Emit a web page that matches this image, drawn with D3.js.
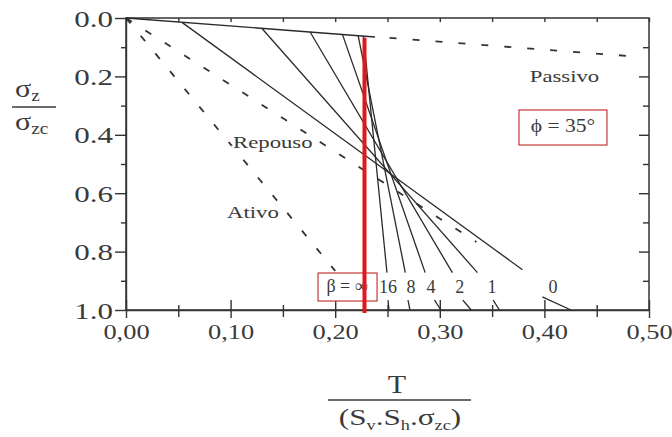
<!DOCTYPE html>
<html>
<head>
<meta charset="utf-8">
<script src="https://cdn.jsdelivr.net/npm/d3@7"></script>
<style>
html, body {margin:0;padding:0;background:#fff;overflow:hidden;}
#chart {display:block;}
svg text {font-family:"Liberation Serif","Times New Roman",serif;fill:#3a3a3a;}
.ax path, .ax line {stroke:#333;stroke-width:1.4;}
</style>
</head>
<body>
<svg id="chart" width="672" height="437"></svg>
<script>
// values: x = T/(Sv.Sh.σzc), y = σz/σzc
var betaNames = ["0", "1", "2", "4", "8", "16"];
var betaTopX = [0.0535, 0.130, 0.176, 0.207, 0.222, 0.227];
var betaTopY = [0.015, 0.036, 0.048, 0.057, 0.061, 0.062];
var betaMidX = [0.379, 0.336, 0.312, 0.286, 0.267, 0.2495];
var betaMidY = [0.862, 0.872, 0.872, 0.872, 0.872, 0.872];
var betaLowX = [0.398, 0.351, 0.322, 0.295, 0.2696, 0.2505];
var betaLowY = [0.955, 0.966, 0.966, 0.966, 0.966, 0.966];
var betaBotX = [0.4254, 0.357, 0.330, 0.301, 0.2715, 0.2514];
var betaLabelX = [0.4082, 0.350, 0.319, 0.2916, 0.2725, 0.2505];

var envX = [0, 0.238], envY = [0, 0.065];
var passivoX = [0.252, 0.48], passivoY = [0.068, 0.13];
var repousoX = [0, 0.335], repousoY = [0, 0.767];
var ativoX = [0, 0.2], ativoY = [0, 0.866];
var redX = 0.228, redY = [0.068, 1.0];

var xMajor = [0, 0.1, 0.2, 0.3, 0.4, 0.5];
var xMinor = [0.05, 0.15, 0.25, 0.35, 0.45];
var yMajor = [0, 0.2, 0.4, 0.6, 0.8, 1.0];
var yMinor = [0.1, 0.3, 0.5, 0.7, 0.9];

var svg = d3.select("#chart");
var x = d3.scaleLinear().domain([0, 0.5]).range([126, 649]);
var y = d3.scaleLinear().domain([0, 1]).range([18, 310]);
var comma = d3.formatLocale({decimal: ",", thousands: ".", grouping: [3], currency: ["", ""]}).format(".2f");

// plot frame
svg.append("rect").attr("x", x(0)).attr("y", y(0))
  .attr("width", x(0.5) - x(0)).attr("height", y(1) - y(0))
  .attr("fill", "none").attr("stroke", "#333").attr("stroke-width", 1.5);

// top and right ticks pointing inward
svg.append("g").attr("class", "ax").attr("transform", "translate(0," + y(0) + ")")
  .call(d3.axisBottom(x).tickValues(xMajor.concat(xMinor)).tickSize(4).tickSizeOuter(0).tickFormat(""))
  .select(".domain").remove();
svg.append("g").attr("class", "ax").attr("transform", "translate(" + x(0.5) + ",0)")
  .call(d3.axisLeft(y).tickValues([0.2, 0.4, 0.6, 0.8]).tickSize(10).tickFormat(""))
  .select(".domain").remove();
svg.append("g").attr("class", "ax").attr("transform", "translate(" + x(0.5) + ",0)")
  .call(d3.axisLeft(y).tickValues(yMinor).tickSize(6).tickFormat(""))
  .select(".domain").remove();

// left axis
var left = svg.append("g").attr("class", "ax").attr("transform", "translate(" + x(0) + ",0)")
  .call(d3.axisLeft(y).tickValues(yMajor).tickSize(11).tickSizeOuter(0).tickFormat(d3.format(".1f")));
left.selectAll("text").attr("x", -9.6).attr("dy", "0.35em").attr("transform", "scale(1.35,1)")
  .style("font-size", "23px");
svg.append("g").attr("class", "ax").attr("transform", "translate(" + x(0) + ",0)")
  .call(d3.axisLeft(y).tickValues(yMinor).tickSize(5).tickFormat(""))
  .select(".domain").remove();

// bottom axis, ticks cross the line
var bottom = svg.append("g").attr("class", "ax").attr("transform", "translate(0," + y(1) + ")")
  .call(d3.axisBottom(x).tickValues(xMajor).tickSize(8).tickSizeOuter(0).tickFormat(comma));
bottom.selectAll(".tick line").attr("y1", -10);
bottom.selectAll("text").attr("y", 29).attr("dy", 0).attr("transform", "scale(1.2,1)")
  .style("font-size", "22px");
var bmin = svg.append("g").attr("class", "ax").attr("transform", "translate(0," + y(1) + ")")
  .call(d3.axisBottom(x).tickValues(xMinor).tickSize(7).tickFormat(""));
bmin.select(".domain").remove();
bmin.selectAll(".tick line").attr("y1", -5);

var line = d3.line().x(function(d) { return x(d[0]); }).y(function(d) { return y(d[1]); });
function pts(xs, ys) { return xs.map(function(v, i) { return [v, ys[i]]; }); }

// dashed earth pressure lines
[[passivoX, passivoY], [repousoX, repousoY], [ativoX, ativoY]].forEach(function(p) {
  svg.append("path").attr("d", line(pts(p[0], p[1])))
    .attr("fill", "none").attr("stroke", "#333").attr("stroke-width", 1.8)
    .attr("stroke-dasharray", "7,16");
});

// solid envelope and beta lines
svg.append("path").attr("d", line(pts(envX, envY)))
  .attr("fill", "none").attr("stroke", "#2a2a2a").attr("stroke-width", 1.3);
betaNames.forEach(function(b, i) {
  svg.append("path").attr("d", line([[betaTopX[i], betaTopY[i]], [betaMidX[i], betaMidY[i]]]))
    .attr("fill", "none").attr("stroke", "#2a2a2a").attr("stroke-width", 1.3);
  svg.append("path").attr("d", line([[betaLowX[i], betaLowY[i]], [betaBotX[i], 1.0]]))
    .attr("fill", "none").attr("stroke", "#2a2a2a").attr("stroke-width", 1.3);
  svg.append("text").attr("x", x(betaLabelX[i])).attr("y", y(0.942))
    .attr("text-anchor", "middle").style("font-size", "18px").text(b);
});

// text labels
function label(txt, px, py, size, sx) {
  return svg.append("text")
    .attr("transform", "translate(" + px + "," + py + ") scale(" + sx + ",1)")
    .style("font-size", size + "px").text(txt);
}
label("Passivo", x(0.386), y(0.219), 17.5, 1.3);
label("Repouso", x(0.1023), y(0.445), 17.5, 1.3)
  .attr("stroke", "#fff").attr("stroke-width", 4).attr("paint-order", "stroke");
label("Ativo", x(0.0966), y(0.685), 17.5, 1.3);

// boxed annotations
var boxRed = "#c23a36";
svg.append("rect").attr("x", x(0.3757)).attr("y", y(0.315))
  .attr("width", x(0.4598) - x(0.3757)).attr("height", y(0.435) - y(0.315))
  .attr("fill", "none").attr("stroke", boxRed).attr("stroke-width", 1.2);
label("ϕ = 35°", x(0.4177), y(0.39), 18, 1.2).attr("text-anchor", "middle");

svg.append("rect").attr("x", x(0.1836)).attr("y", y(0.8733))
  .attr("width", x(0.2400) - x(0.1836)).attr("height", y(0.9692) - y(0.8733))
  .attr("fill", "#fff").attr("stroke", boxRed).attr("stroke-width", 1.2);
label("β = ∞", x(0.2113), y(0.938), 18, 1).attr("text-anchor", "middle");

// red beta = infinity line
svg.append("line").attr("x1", x(redX)).attr("x2", x(redX))
  .attr("y1", y(redY[0])).attr("y2", y(redY[1]) + 3)
  .attr("stroke", "#e3161c").attr("stroke-width", 4);

// axis titles
var yt = svg.append("g").attr("transform", "translate(15,0)");
var t1 = yt.append("text").attr("transform", "translate(0,97) scale(1.2,1)").style("font-size", "25px");
t1.append("tspan").text("σ");
t1.append("tspan").attr("dy", 4).style("font-size", "16px").text("z");
var t2 = yt.append("text").attr("transform", "translate(0,130) scale(1.2,1)").style("font-size", "25px");
t2.append("tspan").text("σ");
t2.append("tspan").attr("dy", 4).style("font-size", "16px").text("zc");
svg.append("line").attr("x1", 12).attr("x2", 56).attr("y1", 107).attr("y2", 107)
  .attr("stroke", "#3a3a3a").attr("stroke-width", 1.5);

var xt = svg.append("g").attr("transform", "translate(400,0)");
xt.append("text").attr("transform", "translate(-3,393) scale(1.2,1)")
  .attr("text-anchor", "middle").style("font-size", "25px").text("T");
svg.append("line").attr("x1", 328).attr("x2", 471).attr("y1", 400).attr("y2", 400)
  .attr("stroke", "#3a3a3a").attr("stroke-width", 1.5);
var den = xt.append("text").attr("transform", "translate(0,425) scale(1.3,1)")
  .attr("text-anchor", "middle").style("font-size", "24px");
den.append("tspan").text("(S");
den.append("tspan").attr("dy", 5).style("font-size", "14px").text("v");
den.append("tspan").attr("dy", -5).text(".S");
den.append("tspan").attr("dy", 5).style("font-size", "14px").text("h");
den.append("tspan").attr("dy", -5).text(".σ");
den.append("tspan").attr("dy", 5).style("font-size", "14px").text("zc");
den.append("tspan").attr("dy", -5).text(")");
</script>
</body>
</html>
